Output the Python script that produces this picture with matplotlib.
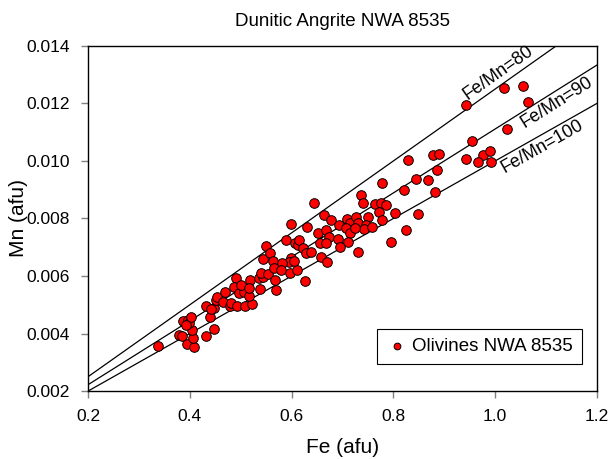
import numpy as np
import matplotlib as mpl

mpl.use('Agg')
import matplotlib.pyplot as plt

plt.rcParams['font.family'] = ['Liberation Sans', 'DejaVu Sans']

# olivine analyses, Fe and Mn in afu
fe = [0.337, 0.379, 0.385, 0.394, 0.409, 0.407, 0.405, 0.432, 0.448, 0.440,
      0.386, 0.396, 0.399, 0.403, 0.392, 0.432, 0.448, 0.451, 0.453, 0.470,
      0.466, 0.478, 0.481, 0.493, 0.508, 0.523, 0.491, 0.487, 0.497, 0.507,
      0.516, 0.501, 0.519, 0.535, 0.543, 0.537, 0.543, 0.550, 0.558, 0.563,
      0.540, 0.553, 0.566, 0.568, 0.569, 0.442, 0.588, 0.606, 0.612, 0.615,
      0.622, 0.629, 0.599, 0.594, 0.581, 0.579, 0.596, 0.610, 0.627, 0.604,
      0.638, 0.644, 0.598, 0.630, 0.663, 0.678, 0.693, 0.708, 0.714, 0.707,
      0.714, 0.710, 0.727, 0.730, 0.651, 0.668, 0.674, 0.655, 0.668, 0.691,
      0.695, 0.658, 0.669, 0.730, 0.750, 0.747, 0.743, 0.724, 0.824, 0.737,
      0.741, 0.763, 0.776, 0.785, 0.771, 0.804, 0.848, 0.778, 0.758, 0.778,
      0.820, 0.829, 0.877, 0.890, 0.886, 0.845, 0.868, 0.881, 0.942, 0.954,
      0.942, 0.976, 0.989, 0.967, 0.991, 1.018, 1.055, 1.064, 1.023, 0.796,
      0.517]
mn = [0.00358, 0.00395, 0.00391, 0.00362, 0.00353, 0.00383, 0.00412, 0.00393, 0.00417, 0.00456,
      0.00442, 0.00447, 0.00435, 0.00456, 0.00430, 0.00496, 0.00488, 0.00517, 0.00528, 0.00544,
      0.00511, 0.00496, 0.00505, 0.00497, 0.00495, 0.00503, 0.00594, 0.00562, 0.00540, 0.00544,
      0.00530, 0.00569, 0.00586, 0.00592, 0.00598, 0.00554, 0.00658, 0.00704, 0.00679, 0.00652,
      0.00611, 0.00607, 0.00627, 0.00586, 0.00551, 0.00484, 0.00725, 0.00714, 0.00708, 0.00725,
      0.00696, 0.00679, 0.00662, 0.00649, 0.00646, 0.00621, 0.00610, 0.00621, 0.00584, 0.00653,
      0.00684, 0.00853, 0.00780, 0.00771, 0.00812, 0.00795, 0.00777, 0.00797, 0.00783, 0.00766,
      0.00748, 0.00719, 0.00806, 0.00783, 0.00748, 0.00760, 0.00737, 0.00716, 0.00714, 0.00728,
      0.00702, 0.00667, 0.00650, 0.00684, 0.00806, 0.00777, 0.00762, 0.00766, 0.00760, 0.00883,
      0.00853, 0.00849, 0.00854, 0.00847, 0.00822, 0.00818, 0.00816, 0.00795, 0.00771, 0.00925,
      0.00899, 0.01003, 0.01022, 0.01024, 0.00967, 0.00936, 0.00933, 0.00893, 0.01196, 0.01070,
      0.01008, 0.01022, 0.01034, 0.00995, 0.00995, 0.01255, 0.01262, 0.01204, 0.01110, 0.00719,
      0.00557]

ratios = [80, 90, 100]
xticks = [0.2, 0.4, 0.6, 0.8, 1.0, 1.2]
yticks = [0.002, 0.004, 0.006, 0.008, 0.010, 0.012, 0.014]

fig = plt.figure(figsize=(6.16, 4.59), dpi=100)
ax = fig.add_axes([0.143, 0.148, 0.826, 0.752])

xs = np.array([0.2, 1.2])
for r in ratios:
    ax.plot(xs, xs / r, color='black', lw=0.9, zorder=1)

ax.scatter(fe, mn, s=48, c='#ff0000', edgecolors='black', linewidths=0.7,
           zorder=3, label='Olivines NWA 8535')

ax.set_xlim(0.2, 1.2)
ax.set_ylim(0.002, 0.014)


# ratio labels along the lines
def angle(r):
    p1 = ax.transData.transform((0.2, 0.2 / r))
    p2 = ax.transData.transform((1.2, 1.2 / r))
    return np.degrees(np.arctan2(p2[1] - p1[1], p2[0] - p1[0]))


ax.text(0.95, 0.95 / 80 + 0.00012, 'Fe/Mn=80', rotation=angle(80),
        rotation_mode='anchor', ha='left', va='bottom', fontsize=13)
ax.text(1.045, 1.045 / 90 - 0.00008, 'Fe/Mn=90', rotation=angle(90),
        rotation_mode='anchor', ha='left', va='top', fontsize=13)
ax.text(1.005, 1.005 / 100 - 0.00008, 'Fe/Mn=100', rotation=angle(100),
        rotation_mode='anchor', ha='left', va='top', fontsize=13)

ax.set_xticks(xticks)
ax.set_xticklabels(['%.1f' % v for v in xticks])
ax.set_yticks(yticks)
ax.set_yticklabels(['%.3f' % v for v in yticks])
ax.tick_params(direction='out', length=5, width=1, color='#808080',
               labelsize=12.5, pad=8)
for sp in ax.spines.values():
    sp.set_linewidth(1)

ax.set_title('Dunitic Angrite NWA 8535', fontsize=13.5, pad=14)
ax.set_xlabel('Fe (afu)', fontsize=15, labelpad=10)
ax.set_ylabel('Mn (afu)', fontsize=15)
ax.yaxis.set_label_coords(-0.118, 0.5)

leg = ax.legend(loc='lower right', bbox_to_anchor=(0.99, 0.05), fontsize=13.5,
                frameon=True, fancybox=False, edgecolor='black', framealpha=1,
                markerscale=0.7, handletextpad=0.2, borderpad=0.5,
                handlelength=1.2)
leg.get_frame().set_linewidth(0.8)

fig.savefig('out.png', dpi=100)
